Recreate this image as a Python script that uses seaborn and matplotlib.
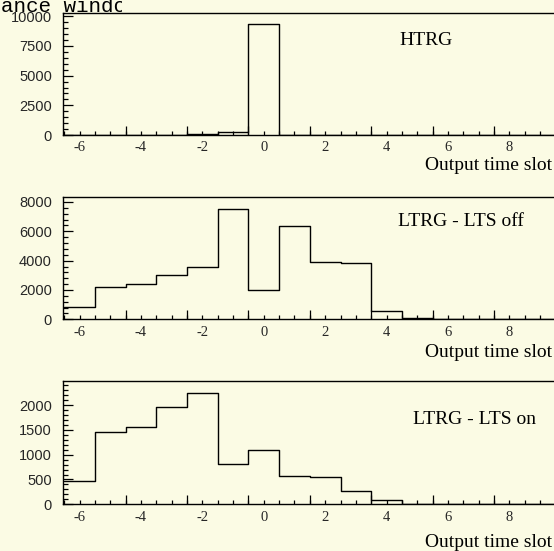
import numpy as np
import pandas as pd
import matplotlib
matplotlib.use("Agg")
import matplotlib.pyplot as plt
import seaborn as sns
from matplotlib.ticker import FixedLocator, MultipleLocator, FuncFormatter
from matplotlib.transforms import Bbox

# ---- data ----
slots = list(range(-6, 11))
htrg = [0, 0, 10, 30, 80, 230, 9320, 0, 0, 0, 0, 0, 0, 0, 0, 0, 0]
ltrg_off = [819, 2205, 2389, 3003, 3549, 7529, 2000, 6389, 3890, 3822,
            567, 110, 50, 40, 30, 30, 20]
ltrg_on = [470, 1458, 1552, 1968, 2238, 819, 1101, 570, 550, 262,
           80, 15, 10, 8, 5, 5, 5]
panel_labels = ["HTRG", "LTRG - LTS off", "LTRG - LTS on"]
x_label = "Output time slot"
title_text = "Acceptance window"
label_ticks = [-6, -4, -2, 0, 2, 4, 6, 8]

BG = "#fbfbe4"
sns.set_theme(style="white", rc={"axes.facecolor": BG, "figure.facecolor": BG})
plt.rcParams["axes.unicode_minus"] = False

W, H = 554, 551
fig = plt.figure(figsize=(W / 100, H / 100), dpi=100)

left_px = 63
px_per_unit = 30.7
xmin = -6.54
xmax = 11.0
width_px = (xmax - xmin) * px_per_unit
panels = [
    (htrg, 12.7, 135.0, 10300, 2500, 500, (0.674, 0.769), 165.0),
    (ltrg_off, 196.7, 319.3, 8360, 2000, 400, (0.739, 0.796), 352.3),
    (ltrg_on, 381.0, 504.3, 2484, 500, 100, (0.7645, 0.689), 542.3),
]

for (vals, top, bot, ytop, ymaj, ymin_, lblpos, xlab_y), name in zip(panels, panel_labels):
    ax = fig.add_axes([left_px / W, 1 - bot / H, width_px / W, (bot - top) / H])
    df = pd.DataFrame({"slot": slots, "count": vals})
    sns.histplot(data=df, x="slot", weights="count", discrete=True,
                 element="step", fill=False, color="black", linewidth=1.0, ax=ax)
    ax.set_xlim(xmin, xmax)
    ax.set_ylim(0, ytop)
    ax.set_xlabel("")
    ax.set_ylabel("")
    for s in ["left", "bottom", "top"]:
        ax.spines[s].set_visible(True)
        ax.spines[s].set_color("black")
        ax.spines[s].set_linewidth(1.0)
    ax.spines["right"].set_visible(False)

    ax.xaxis.remove_overlapping_locs = False
    ax.xaxis.set_major_locator(FixedLocator(np.arange(-4.5, 12, 2)))
    ax.xaxis.set_major_formatter(FuncFormatter(lambda v, p: ""))
    ax.xaxis.set_minor_locator(MultipleLocator(0.5))
    ax.xaxis.set_minor_formatter(FuncFormatter(
        lambda v, p: f"{int(round(v))}" if abs(v - round(v)) < 1e-6 and int(round(v)) in label_ticks else ""))
    ax.tick_params(axis="x", which="major", direction="in", length=6.5, width=0.9,
                   bottom=True, top=False, color="black")
    ax.tick_params(axis="x", which="minor", direction="in", length=3.0, width=0.9,
                   bottom=True, top=False, color="black", pad=4.5, labelsize=10.5)
    for t in ax.get_xticklabels(minor=True):
        t.set_fontfamily("Liberation Serif")

    ax.yaxis.set_major_locator(MultipleLocator(ymaj))
    ax.yaxis.set_minor_locator(MultipleLocator(ymin_))
    ax.yaxis.set_major_formatter(FuncFormatter(lambda v, p: f"{int(round(v))}"))
    ax.tick_params(axis="y", which="major", direction="in", length=7.2, width=0.9,
                   left=True, right=False, color="black", pad=8, labelsize=10.5)
    ax.tick_params(axis="y", which="minor", direction="in", length=3.6, width=0.9,
                   left=True, right=False, color="black")
    for t in ax.get_yticklabels():
        t.set_fontfamily("Liberation Sans")

    ax.text(lblpos[0], lblpos[1], name, transform=ax.transAxes, ha="center",
            va="center", fontsize=14, family="Liberation Serif", color="black")
    fig.text(551.7 / W, 1 - xlab_y / H, x_label, ha="right", va="center",
             fontsize=14, family="Liberation Serif", color="black")

t = fig.text(-74.5 / W, 1 - 11.5 / H, title_text, ha="left", va="baseline",
             fontsize=15, family="Liberation Mono", color="black")
t.set_clip_on(True)
t.set_clip_box(Bbox.from_extents(0, 0, 121.7, H))

fig.savefig("out.png", dpi=100, facecolor=BG)
